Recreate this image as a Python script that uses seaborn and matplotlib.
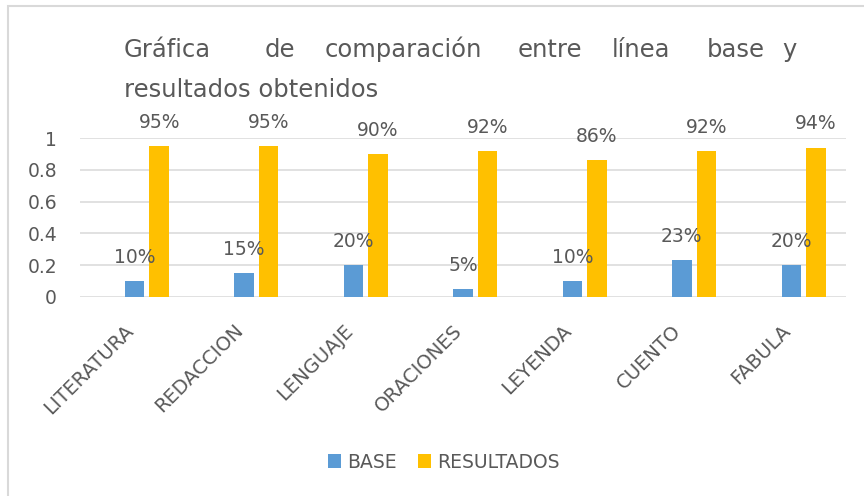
import numpy as np
import pandas as pd
import matplotlib
matplotlib.use('Agg')
import matplotlib.pyplot as plt
import matplotlib.transforms as mtransforms
import seaborn as sns
from matplotlib.patches import Rectangle, Patch

# --- datos ---
categorias = ['LITERATURA', 'REDACCION', 'LENGUAJE', 'ORACIONES', 'LEYENDA', 'CUENTO', 'FABULA']
base = [0.10, 0.15, 0.20, 0.05, 0.10, 0.23, 0.20]
resultados = [0.95, 0.95, 0.90, 0.92, 0.86, 0.92, 0.94]
vacia = [0, 0, 0, 0, 0, 0, 0]  # serie vacía (Excel deja su hueco en cada grupo)

series = ['', 'BASE', 'RESULTADOS']
colores = ['#FFFFFF', '#5B9BD5', '#FFC000']
yticks = [0, 0.2, 0.4, 0.6, 0.8, 1]
ytick_labels = ['0', '0.2', '0.4', '0.6', '0.8', '1']

titulo_l1 = ['Gráfica', 'de', 'comparación', 'entre', 'línea', 'base', 'y']
titulo_x1 = [124, 265, 325, 518, 612, 707, 782]  # texto justificado, en px
titulo_l2 = 'resultados obtenidos'

gris = '#595959'

df = pd.DataFrame({
    'Categoria': categorias * 3,
    'Serie': np.repeat(series, len(categorias)),
    'Valor': vacia + base + resultados,
})

sns.set_style('white')
plt.rcParams['font.family'] = ['DejaVu Sans']

W, H = 864, 496
fig = plt.figure(figsize=(W / 100, H / 100), dpi=100)
ax = fig.add_axes([80 / W, 1 - 297 / H, (846 - 80) / W, (297 - 138) / H])

sns.barplot(data=df, x='Categoria', y='Valor', hue='Serie', hue_order=series, order=categorias,
            palette=dict(zip(series, colores)), saturation=1, width=0.67, gap=0.2, linewidth=0,
            errorbar=None, legend=False, ax=ax)

# etiquetas de datos
for cont, serie in zip(ax.containers, series):
    if serie == '':
        continue
    for bar in cont:
        h = bar.get_height()
        ax.annotate(f'{h * 100:.0f}%', (bar.get_x() + bar.get_width() / 2, h),
                    xytext=(0, 13), textcoords='offset points', ha='center', va='baseline',
                    fontsize=13.5, color=gris, annotation_clip=False)

ax.set_ylim(0, 1)
ax.set_xlim(-0.5, len(categorias) - 0.5)
ax.set_yticks(yticks)
ax.set_yticklabels(ytick_labels)
ax.set_xlabel('')
ax.set_ylabel('')
ax.yaxis.grid(True, color='#D9D9D9', lw=1.1)
ax.set_axisbelow(True)
for s in ax.spines.values():
    s.set_visible(False)
ax.tick_params(axis='y', length=0, pad=16.5, labelsize=13.5, labelcolor=gris)
ax.tick_params(axis='x', length=0, pad=22, labelsize=14, labelcolor=gris)
desplaza = mtransforms.ScaledTranslation(-4 / 100, 0, fig.dpi_scale_trans)
for lab in ax.get_xticklabels():
    lab.set_rotation(45)
    lab.set_ha('right')
    lab.set_va('center')
    lab.set_rotation_mode('anchor')
    lab.set_transform(lab.get_transform() + desplaza)

# título justificado
for palabra, x in zip(titulo_l1, titulo_x1):
    fig.text(x / W, 1 - 57 / H, palabra, fontsize=17.5, color=gris, va='baseline', ha='left')
fig.text(124 / W, 1 - 97 / H, titulo_l2, fontsize=17.5, color=gris, va='baseline', ha='left')

# leyenda
handles = [Patch(color=colores[1], lw=0), Patch(color=colores[2], lw=0)]
fig.legend(handles, series[1:], loc='center', bbox_to_anchor=(444 / W, 1 - 462 / H), ncol=2,
           frameon=False, fontsize=13.5, labelcolor=gris, handlelength=0.7, handleheight=0.7,
           handletextpad=0.35, columnspacing=1.1)

# borde del área del gráfico
fig.add_artist(Rectangle((8 / W, -0.05), 1.0, 1.05 - 6 / H, transform=fig.transFigure,
                         fill=False, edgecolor='#D9D9D9', lw=1.5))

fig.savefig('out.png', dpi=100)
